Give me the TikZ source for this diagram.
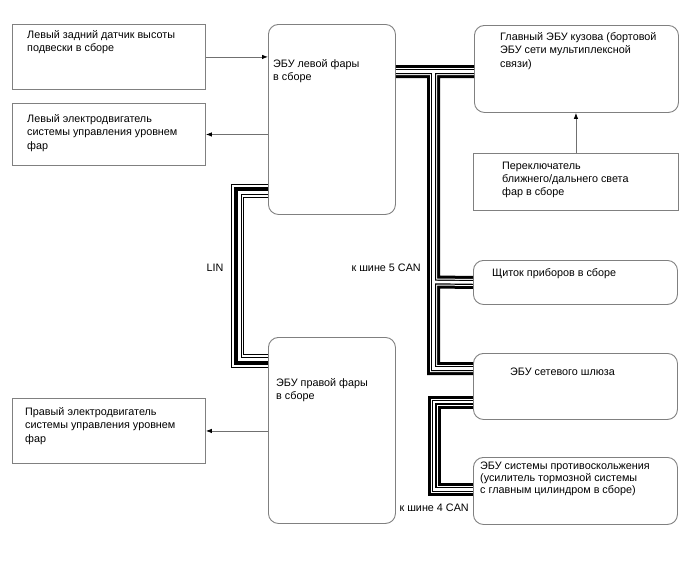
\documentclass[tikz,border=0pt]{standalone}
\usepackage{fontspec}
\setmainfont{Liberation Sans}
\usetikzlibrary{arrows.meta,calc}
\definecolor{boxgray}{HTML}{808080}
\definecolor{arrgray}{HTML}{707070}
\newcommand\linwire[2]{\draw[line width=#2pt, line join=miter] ([yshift=#1pt]lt) -| ([xshift={-1pt*(#1)}, yshift={-1pt*(#1)}]lc) |- ([yshift={-1pt*(#1)}]lb);}
\tikzset{
  rbox/.style={draw=boxgray, line width=0.9pt, rounded corners=10pt, inner sep=0pt, anchor=north west},
  sbox/.style={draw=boxgray, line width=0.9pt, inner sep=0pt, anchor=north west},
  txt/.style={inner sep=0pt, anchor=north west, align=left, font=\fontsize{10.8}{13.6}\selectfont},
  lbl/.style={inner sep=0pt, font=\fontsize{10.8}{13.6}\selectfont},
  arr/.style={draw=arrgray, line width=0.8pt, -{Latex[length=6pt,width=4.5pt,color=black]}},
  canbus/.style={draw=black, line width=3pt, double=white, double distance=7pt, line join=miter,
    postaction={draw=black, line width=1.2pt, double=white, double distance=2.6pt, line join=miter}}
}
\begin{document}
\begin{tikzpicture}[x=1pt,y=-1pt]
\useasboundingbox (0,0) rectangle (688,560);
% boxes
\node[sbox, minimum width=193pt, minimum height=65pt] (b1) at (12,24) {};
\node[sbox, minimum width=193pt, minimum height=62pt] (b2) at (12,103) {};
\node[sbox, minimum width=193pt, minimum height=65pt] (b3) at (12,398) {};
\node[rbox, minimum width=127pt, minimum height=190pt] (lecu) at (268,24) {};
\node[rbox, minimum width=127pt, minimum height=186pt] (recu) at (268,337) {};
\node[rbox, minimum width=204pt, minimum height=87pt] (main) at (474,25) {};
\node[sbox, minimum width=205pt, minimum height=57pt] (sw) at (473,153) {};
\node[rbox, minimum width=204pt, minimum height=44pt] (dash) at (473,260) {};
\node[rbox, minimum width=204pt, minimum height=66pt] (gw) at (473,353) {};
\node[rbox, minimum width=204pt, minimum height=67pt] (abs) at (473,457) {};
% texts
\node[txt] (b1t) at (27,30) {Левый задний датчик высоты\\подвески в сборе};
\node[txt] (b2t) at (27,114) {Левый электродвигатель\\системы управления уровнем\\фар};
\node[txt] (b3t) at (25,407) {Правый электродвигатель\\системы управления уровнем\\фар};
\node[txt] (lecut) at (273,59) {ЭБУ левой фары\\в сборе};
\node[txt] (recut) at (276,378) {ЭБУ правой фары\\в сборе};
\node[txt] (maint) at (500,32) {Главный ЭБУ кузова (бортовой\\ЭБУ сети мультиплексной\\связи)};
\node[txt, font=\fontsize{10.8}{13}\selectfont] (swt) at (502,162) {Переключатель\\ближнего/дальнего света\\фар в сборе};
\node[txt] (dasht) at (492,268) {Щиток приборов в сборе};
\node[txt] (gwt) at (510,368) {ЭБУ сетевого шлюза};
\node[txt, font=\fontsize{10.8}{12}\selectfont] (abst) at (480,462) {ЭБУ системы противоскольжения\\(усилитель тормозной системы\\с главным цилиндром в сборе)};
% labels
\node[lbl] (lin) at (215,268) {LIN};
\node[lbl, anchor=east] (can5) at (421,268) {к шине 5 CAN};
\node[lbl, anchor=east] (can4) at (469,508) {к шине 4 CAN};
% arrows
\draw[arr] (b1.east) -- (b1.east -| lecu.west);
\draw[arr] (b2.east -| lecu.west) -- (b2.east);
\draw[arr] (b3.east -| recu.west) -- (b3.east);
\draw[arr] (sw.north) -- (sw.north |- main.south);
% LIN bus
\coordinate (lt) at (lecu.west |- 0,190.5);
\coordinate (lb) at (recu.west |- 0,361);
\coordinate (lc) at (237,361);
\linwire{6}{1}
\linwire{1.5}{4}
\linwire{-4}{1}
\linwire{-6.5}{1}
% CAN 5
\coordinate (c5a) at (lecu.east |- 0,71.5);
\coordinate (c5b) at (main.west |- 0,71.5);
\coordinate (c5t) at (433.5,71.5);
\coordinate (c5g) at (gw.west |- 0,368.5);
\coordinate (c5m) at (433.5,282);
\draw[canbus] (c5a) -- (c5b) (c5t) |- (c5g) (c5m) -- (dash.west);
% CAN 4
\coordinate (c4g) at (gw.west |- 0,402);
\coordinate (c4c) at (434,489.5);
\coordinate (c4a) at (abs.west |- 0,489.5);
\draw[canbus] (c4g) -| (c4c) -- (c4a);
\end{tikzpicture}
\end{document}
